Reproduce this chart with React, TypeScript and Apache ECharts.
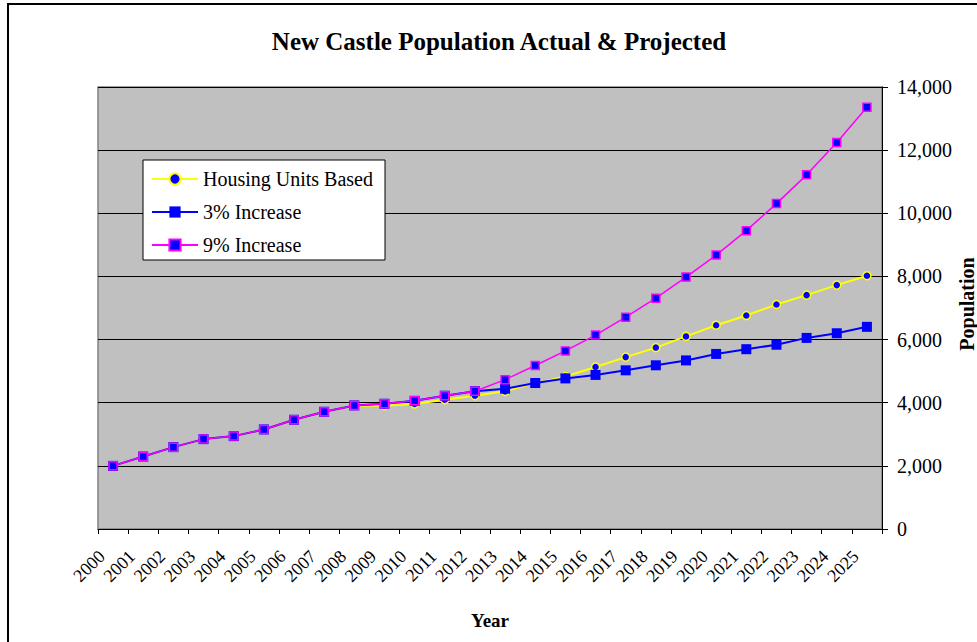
import React, { useEffect, useRef } from "react";
import * as echarts from "echarts";

const years = ["2000","2001","2002","2003","2004","2005","2006","2007","2008","2009","2010","2011","2012","2013","2014","2015","2016","2017","2018","2019","2020","2021","2022","2023","2024","2025"];
const housingUnits = [2000, 2296, 2593, 2847, 2942, 3153, 3460, 3714, 3915, 3905, 3958, 4095, 4222, 4360, 4620, 4830, 5132, 5445, 5746, 6100, 6455, 6762, 7111, 7407, 7725, 8022];
const increase3 = [2000, 2296, 2593, 2847, 2942, 3153, 3460, 3714, 3915, 3968, 4060, 4222, 4365, 4444, 4624, 4770, 4880, 5026, 5185, 5340, 5545, 5695, 5836, 6053, 6200, 6403];
const increase9 = [2000, 2296, 2593, 2847, 2942, 3153, 3460, 3714, 3915, 3968, 4060, 4222, 4365, 4730, 5180, 5640, 6143, 6709, 7312, 7979, 8677, 9450, 10307, 11217, 12243, 13355];
const seriesNames = ["Housing Units Based", "3% Increase", "9% Increase"];
const titleText = "New Castle Population Actual & Projected";

const FONT = "'Liberation Serif', 'Times New Roman', serif";

export default function App() {
  const ref = useRef<HTMLDivElement>(null);
  useEffect(() => {
    if (!ref.current) return;
    const chart = echarts.init(ref.current, null, { renderer: "svg" });
    chart.setOption({
      animation: false,
      backgroundColor: "#ffffff",
      textStyle: { fontFamily: FONT },
      grid: {
        left: 98, right: 95, top: 87, bottom: 113,
        show: true, backgroundColor: "#C0C0C0", borderColor: "#808080", borderWidth: 1.5,
      },
      graphic: [
        { type: "rect", shape: { x: 8, y: 4, width: 1000, height: 700 }, style: { fill: "none", stroke: "#000", lineWidth: 2 }, z: 100 },
        { type: "text", x: 499, y: 41, style: { text: titleText, font: `bold 25px ${FONT}`, fill: "#000", align: "center", verticalAlign: "middle" } },
        { type: "text", x: 967, y: 304, rotation: Math.PI / 2, style: { text: "Population", font: `bold 20px ${FONT}`, fill: "#000", align: "center", verticalAlign: "middle" } },
      ],
      legend: {
        orient: "vertical", left: 143, top: 160,
        data: seriesNames,
        backgroundColor: "#ffffff", borderColor: "#000", borderWidth: 1,
        padding: [9, 12, 5, 8], itemGap: 13, itemWidth: 46, itemHeight: 14,
        textStyle: { fontFamily: FONT, fontSize: 20, color: "#000", lineHeight: 20 },
      },
      xAxis: {
        type: "category", data: years, boundaryGap: true,
        name: "Year", nameLocation: "middle", nameGap: 82,
        nameTextStyle: { fontFamily: FONT, fontSize: 19, fontWeight: "bold", color: "#000" },
        axisLine: { lineStyle: { color: "#000", width: 1 } },
        axisTick: { show: true, inside: false, length: 5, alignWithLabel: false, lineStyle: { color: "#000" } },
        axisLabel: { interval: 0, rotate: 45, margin: 13, padding: [0, 16, 0, 0], fontFamily: FONT, fontSize: 18, color: "#000" },
        splitLine: { show: false },
      },
      yAxis: {
        type: "value", position: "right", min: 0, max: 14000, interval: 2000,
        axisLine: { show: true, lineStyle: { color: "#000", width: 1 } },
        axisTick: { show: true, inside: false, length: 6, lineStyle: { color: "#000" } },
        axisLabel: { margin: 15, fontFamily: FONT, fontSize: 20, color: "#000", formatter: (v: number) => v.toLocaleString("en-US") },
        splitLine: { show: true, lineStyle: { color: "#000", width: 1 } },
      },
      series: [
        {
          name: seriesNames[0], type: "line", data: housingUnits,
          symbol: "circle", symbolSize: 8,
          lineStyle: { color: "#FFFF00", width: 2 },
          itemStyle: { color: "#0000FF", borderColor: "#FFFF00", borderWidth: 1.5 },
          z: 2,
        },
        {
          name: seriesNames[1], type: "line", data: increase3,
          symbol: "rect", symbolSize: 10,
          lineStyle: { color: "#0000FF", width: 2 },
          itemStyle: { color: "#0000FF", borderColor: "#0000FF", borderWidth: 0 },
          z: 3,
        },
        {
          name: seriesNames[2], type: "line", data: increase9,
          symbol: "rect", symbolSize: 8,
          lineStyle: { color: "#FF00FF", width: 1.5 },
          itemStyle: { color: "#0000FF", borderColor: "#FF00FF", borderWidth: 1.5 },
          z: 4,
        },
      ],
    });
    return () => chart.dispose();
  }, []);
  return <div ref={ref} style={{ position: "fixed", left: 0, top: 0, width: 977, height: 642 }} />;
}
